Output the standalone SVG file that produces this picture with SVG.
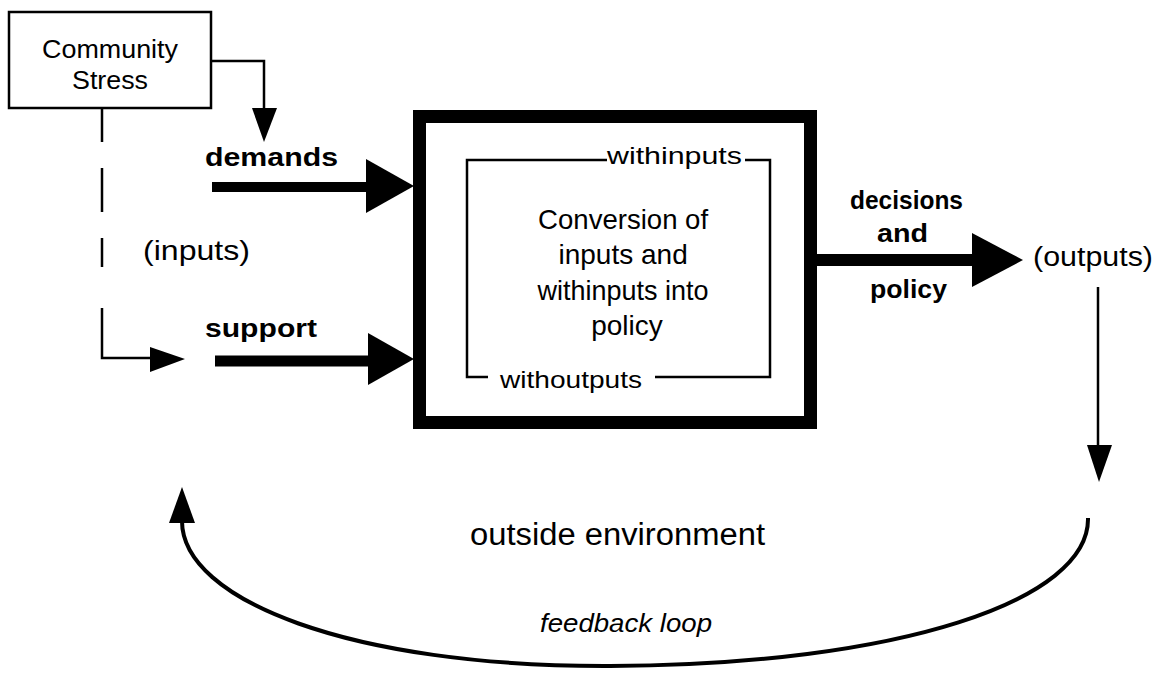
<svg xmlns="http://www.w3.org/2000/svg" width="1157" height="675" viewBox="0 0 1157 675">
<style>
text{font-family:"Liberation Sans",Arial,Helvetica,sans-serif;fill:#000}
.b{font-weight:bold}
.thin{fill:none;stroke:#000;stroke-width:2.5}
.thick{fill:none;stroke:#000}
.head{fill:#000;stroke:none}
</style>
<rect width="1157" height="675" fill="#fff"/>
<g id="community-stress">
<rect x="9" y="12" width="202" height="96" fill="#fff" stroke="#000" stroke-width="2.5"/>
<text x="110" y="58" font-size="26" text-anchor="middle" textLength="136" lengthAdjust="spacingAndGlyphs">Community</text>
<text x="110" y="89" font-size="26" text-anchor="middle" textLength="76" lengthAdjust="spacingAndGlyphs">Stress</text>
</g>
<g id="system">
<rect x="419.5" y="116.5" width="391" height="306" fill="#fff" stroke="#000" stroke-width="13"/>
<path class="thin" d="M607,160 H467 V377 H488 M655,377 H770 V160 H745"/>
<text x="607" y="164" font-size="24" textLength="135" lengthAdjust="spacingAndGlyphs">withinputs</text>
<text x="500" y="388" font-size="24" textLength="142" lengthAdjust="spacingAndGlyphs">withoutputs</text>
<text font-size="28" text-anchor="middle">
<tspan x="627" y="229" textLength="170" lengthAdjust="spacingAndGlyphs">Conversion of</tspan>
<tspan x="627" y="264">inputs and</tspan>
<tspan x="627" y="300" textLength="171" lengthAdjust="spacingAndGlyphs">withinputs into</tspan>
<tspan x="627" y="335">policy</tspan>
</text>
</g>
<g id="labels">
<text class="b" x="205" y="166" font-size="26" textLength="133" lengthAdjust="spacingAndGlyphs">demands</text>
<text class="b" x="205" y="337" font-size="26" textLength="112" lengthAdjust="spacingAndGlyphs">support</text>
<text x="143" y="260" font-size="28" textLength="107" lengthAdjust="spacingAndGlyphs">(inputs)</text>
<text class="b" x="850" y="209" font-size="25" textLength="113" lengthAdjust="spacingAndGlyphs">decisions</text>
<text class="b" x="877" y="242" font-size="25" textLength="51" lengthAdjust="spacingAndGlyphs">and</text>
<text class="b" x="870" y="298" font-size="25" textLength="77" lengthAdjust="spacingAndGlyphs">policy</text>
<text x="1033" y="266" font-size="27" textLength="120" lengthAdjust="spacingAndGlyphs">(outputs)</text>
<text x="470" y="545" font-size="31" textLength="295" lengthAdjust="spacingAndGlyphs">outside environment</text>
<text x="540" y="632" font-size="26" font-style="italic" textLength="172" lengthAdjust="spacingAndGlyphs">feedback loop</text>
</g>
<g id="connectors">
<path class="thin" d="M211,61 H264 V110"/>
<polygon class="head" points="252,108 277,108 264,142"/>
<path class="thin" d="M102,108 V142 M102,168 V212 M102,238 V267 M102,308 V358 H152"/>
<polygon class="head" points="150,347 150,372 185,359"/>
<path class="thick" stroke-width="10" d="M212,187 H370"/>
<polygon class="head" points="366,159 366,213 414,186"/>
<path class="thick" stroke-width="11" d="M215,361 H370"/>
<polygon class="head" points="368,333 368,385 414,359"/>
<path class="thick" stroke-width="12" d="M812,260 H975"/>
<polygon class="head" points="972,233 972,287 1023,260"/>
<path class="thin" d="M1098,287 V447"/>
<polygon class="head" points="1087,445 1112,445 1099,482"/>
<path class="thick" stroke-width="4" d="M1088,518 C1090,600 900,665 610,666 C350,667 182,600 182,521"/>
<polygon class="head" points="169,523 195,523 182,487"/>
</g>
</svg>
